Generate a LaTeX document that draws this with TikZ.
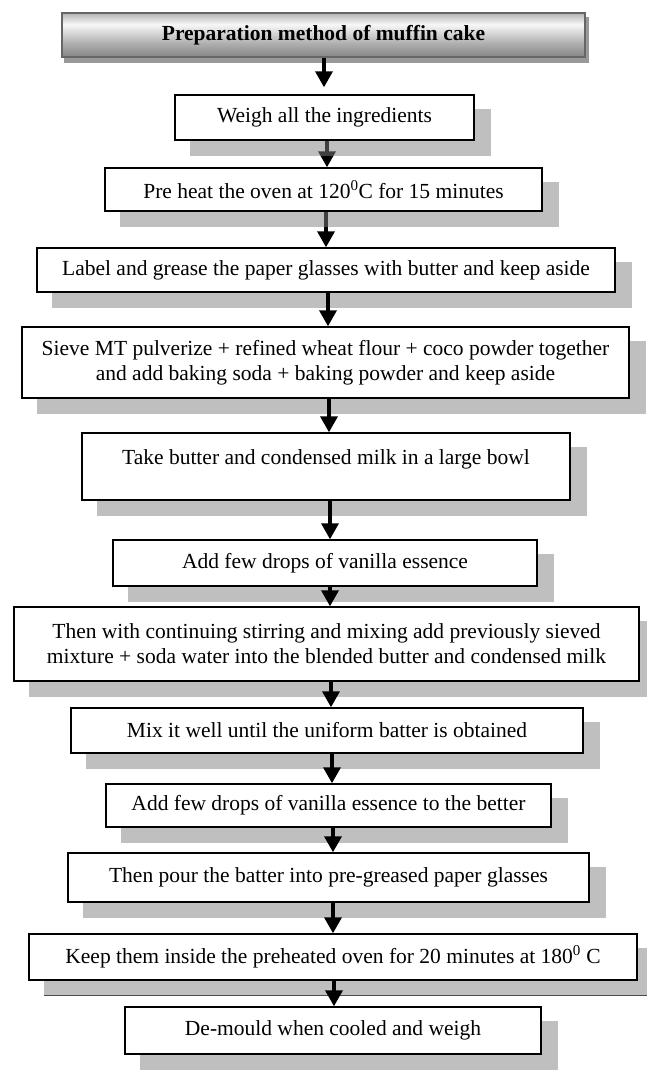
\documentclass[tikz,border=0pt]{standalone}
\usepackage{fontspec}
\setmainfont{Liberation Serif}
\usetikzlibrary{arrows.meta}
\pgfdeclarelayer{back}
\pgfdeclarelayer{shad}
\pgfsetlayers{back,shad,main}
\pgfdeclareverticalshading{hdrshade}{100bp}{color(0bp)=(black!48); color(25bp)=(black!48); color(40bp)=(black!32); color(62bp)=(black!3); color(75bp)=(black!30); color(100bp)=(black!30)}
\tikzset{
  stepbox/.style={draw=black, line width=1.4pt, fill=white, inner sep=0pt, align=center,
    font=\fontsize{21.5}{25}\selectfont},
  hdrbox/.style={draw=black!60, line width=1.4pt, shading=hdrshade, inner sep=0pt,
    font=\fontsize{21.5}{25}\selectfont\bfseries},
  flow/.style={line width=3.5pt, -{Triangle[width=17pt,length=16pt]}},
  shadowfill/.style={fill=gray, fill opacity=0.5},
}
\newcommand{\boxshadow}[1]{\fill[shadowfill] ([xshift=16pt,yshift=-15pt]#1.south west) rectangle ([xshift=16pt,yshift=-15pt]#1.north east);}
\begin{document}
\begin{tikzpicture}[x=1pt,y=-1pt]
\useasboundingbox (0,0) rectangle (647,1074);

\node[hdrbox, minimum width=523pt, minimum height=44pt] (h) at (323.5,35) {Preparation method of muffin cake};
\node[stepbox, minimum width=299pt, minimum height=45pt] (b1) at (324.5,117.5) {Weigh all the ingredients};
\node[stepbox, minimum width=437pt, minimum height=43pt] (b2) at (323.5,189.5) {Pre heat the oven at 120\textsuperscript{0}C for 15 minutes};
\node[stepbox, minimum width=578pt, minimum height=44pt] (b3) at (326,270) {Label and grease the paper glasses with butter and keep aside};
\node[stepbox, minimum width=607pt, minimum height=71pt] (b4) at (325.5,362.5) {Sieve MT pulverize + refined wheat flour + coco powder together\\and add baking soda + baking powder and keep aside};
\node[stepbox, minimum width=488pt, minimum height=67pt, text height=15pt, text depth=20pt] (b5) at (326,466.5) {Take butter and condensed milk in a large bowl};
\node[stepbox, minimum width=424pt, minimum height=46pt] (b6) at (325,563) {Add few drops of vanilla essence};
\node[stepbox, minimum width=625pt, minimum height=74pt] (b7) at (326.5,644) {Then with continuing stirring and mixing add previously sieved\\mixture + soda water into the blended butter and condensed milk};
\node[stepbox, minimum width=512pt, minimum height=45pt] (b8) at (327,730.5) {Mix it well until the uniform batter is obtained};
\node[stepbox, minimum width=445pt, minimum height=43pt] (b9) at (328.5,805.5) {Add few drops of vanilla essence to the better};
\node[stepbox, minimum width=521pt, minimum height=49pt] (b10) at (328.5,877.5) {Then pour the batter into pre-greased paper glasses};
\node[stepbox, minimum width=608pt, minimum height=46pt] (b11) at (333,957) {Keep them inside the preheated oven for 20 minutes at 180\textsuperscript{0} C};
\node[stepbox, minimum width=416pt, minimum height=47pt] (b12) at (333,1030.5) {De-mould when cooled and weigh};

\coordinate (x1) at (324,0);
\coordinate (x2) at (327,0);
\coordinate (x3) at (326,0);
\coordinate (x4) at (328,0);
\coordinate (x5) at (329,0);
\coordinate (x6) at (330,0);
\coordinate (x7) at (330,0);
\coordinate (x8) at (331,0);
\coordinate (x9) at (332,0);
\coordinate (x10) at (333,0);
\coordinate (x11) at (333,0);
\coordinate (x12) at (334,0);

\begin{pgfonlayer}{shad}
\fill[black!40] ([xshift=3pt,yshift=-5pt]h.south west) rectangle ([xshift=3pt,yshift=-5pt]h.north east);
\boxshadow{b1}
\boxshadow{b2}
\boxshadow{b3}
\boxshadow{b4}
\boxshadow{b5}
\boxshadow{b6}
\boxshadow{b7}
\boxshadow{b8}
\boxshadow{b9}
\boxshadow{b10}
\boxshadow{b11}
\boxshadow{b12}
\draw[line width=1pt, black!70] ([xshift=16pt,yshift=-15pt]b11.south west) -- ([xshift=16pt,yshift=-15pt]b11.south east);
\end{pgfonlayer}

\begin{pgfonlayer}{back}
\draw[flow] (b1.south -| x2) -- (b2.north -| x2);
\draw[flow] (b2.south -| x3) -- (b3.north -| x3);
\end{pgfonlayer}

\draw[flow, shorten >=7pt] (h.south -| x1) -- (b1.north -| x1);
\draw[flow] (b3.south -| x4) -- (b4.north -| x4);
\draw[flow] (b4.south -| x5) -- (b5.north -| x5);
\draw[flow] (b5.south -| x6) -- (b6.north -| x6);
\draw[flow] (b6.south -| x7) -- (b7.north -| x7);
\draw[flow] (b7.south -| x8) -- (b8.north -| x8);
\draw[flow] (b8.south -| x9) -- (b9.north -| x9);
\draw[flow] (b9.south -| x10) -- (b10.north -| x10);
\draw[flow] (b10.south -| x11) -- (b11.north -| x11);
\draw[flow] (b11.south -| x12) -- (b12.north -| x12);
\end{tikzpicture}
\end{document}
